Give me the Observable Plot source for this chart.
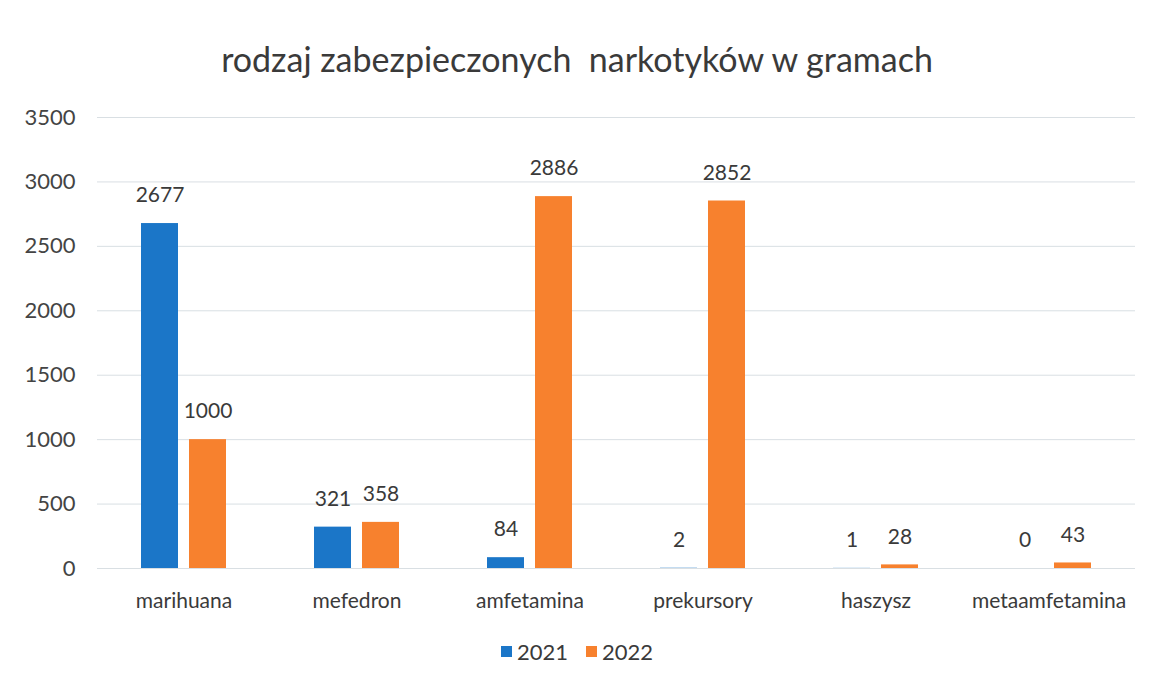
<!DOCTYPE html>
<html><head><meta charset="utf-8">
<script src="https://cdn.jsdelivr.net/npm/d3@7"></script>
<script src="https://cdn.jsdelivr.net/npm/@observablehq/plot@0.6"></script>
<style>
body{margin:0;background:#fff;font-family:Lato,"Open Sans",sans-serif;color:#404040;width:1154px;height:684px;overflow:hidden}
#title{height:100px;line-height:118px;text-align:center;font-size:34px;color:#3a3a3a}
#legend{display:flex;justify-content:center;gap:18px;font-size:22px;color:#3a3a3a;margin-top:18px}
#legend span{display:inline-flex;align-items:center;gap:5px}
#legend i{display:inline-block;width:11px;height:11px}
</style></head>
<body>
<div id="title">rodzaj zabezpieczonych&nbsp; narkotyków w gramach</div>
<div id="chart"></div>
<div id="legend"></div>
<script>
const categories = ["marihuana","mefedron","amfetamina","prekursory","haszysz","metaamfetamina"];
const years = ["2021","2022"];
const values2021 = [2677, 321, 84, 2, 1, 0];
const values2022 = [1000, 358, 2886, 2852, 28, 43];
const yTicks = [0,500,1000,1500,2000,2500,3000,3500];
const colors = ["#1b76c8","#f7812e"];

const data = [];
categories.forEach((c,i)=>{
  data.push({cat:c, year:years[0], v:values2021[i]});
  data.push({cat:c, year:years[1], v:values2022[i]});
});

const chart = Plot.plot({
  width:1154, height:520,
  marginLeft:97, marginRight:19, marginTop:17, marginBottom:52,
  style:{fontFamily:"Lato, 'Open Sans', sans-serif", fontSize:"19px", color:"#3a3a3a", background:"#fff"},
  fx:{domain:categories, padding:0, label:null},
  x:{domain:years, paddingInner:0.22, paddingOuter:0.886, axis:null},
  y:{domain:[0,3500], ticks:yTicks, label:null},
  color:{domain:years, range:colors},
  marks:[
    Plot.gridY(yTicks,{stroke:"#d9dfe3", strokeOpacity:1, strokeWidth:1}),
    Plot.axisY(yTicks,{tickSize:0, tickPadding:22, label:null, fontSize:22, fill:"#444", tickFormat:d=>String(d)}),
    Plot.axisFx({anchor:"bottom", tickSize:0, tickPadding:25, label:null, fontSize:21, fill:"#3a3a3a"}),
    Plot.barY(data,{fx:"cat", x:"year", y:"v", fill:"year"}),
    Plot.text(data,{fx:"cat", x:"year", y:"v", text:d=>String(d.v), dy:-28, fontSize:21, fill:"#3a3a3a"})
  ]
});
document.getElementById("chart").appendChild(chart);

const lg = document.getElementById("legend");
years.forEach((y,i)=>{
  const s=document.createElement("span");
  s.innerHTML=`<i style="background:${colors[i]}"></i>${y}`;
  lg.appendChild(s);
});
</script>
</body></html>
